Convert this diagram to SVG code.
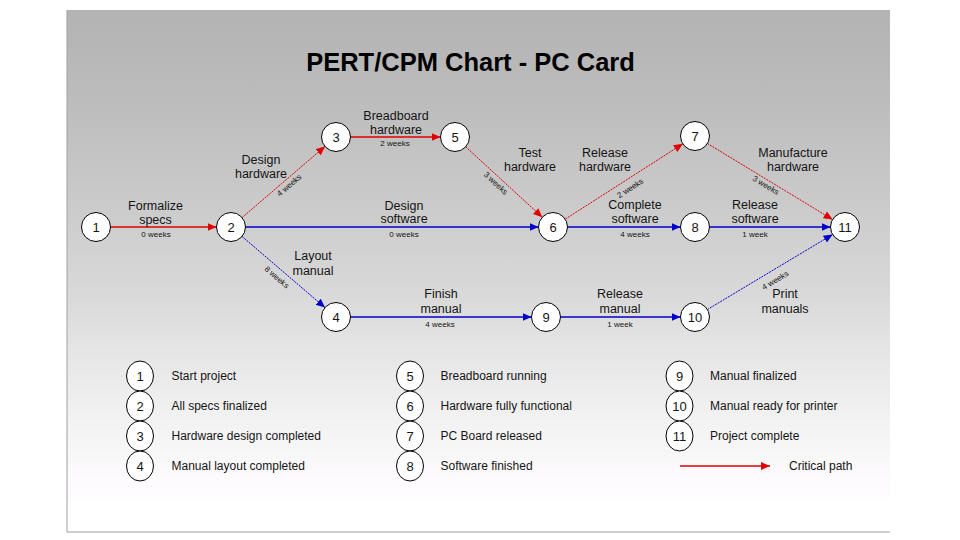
<svg xmlns="http://www.w3.org/2000/svg" width="960" height="540" viewBox="0 0 960 540">
<defs>
<linearGradient id="bg" gradientUnits="userSpaceOnUse" x1="0" y1="10" x2="0" y2="532">
<stop offset="0" stop-color="#b3b3b3"/>
<stop offset="0.17" stop-color="#bcbcbc"/>
<stop offset="0.364" stop-color="#cacaca"/>
<stop offset="0.556" stop-color="#dadada"/>
<stop offset="0.651" stop-color="#e5e5e5"/>
<stop offset="0.785" stop-color="#f2f2f2"/>
<stop offset="0.9" stop-color="#fdfbfd"/>
<stop offset="0.935" stop-color="#fffcff"/>
<stop offset="0.94" stop-color="#ffffff"/>
<stop offset="1" stop-color="#ffffff"/>
</linearGradient>
<marker id="ar" markerUnits="userSpaceOnUse" markerWidth="10" markerHeight="9" refX="9" refY="4" orient="auto"><path d="M0,0 L9,4 L0,8 z" fill="#e00000"/></marker>
<marker id="ab" markerUnits="userSpaceOnUse" markerWidth="10" markerHeight="9" refX="9" refY="4" orient="auto"><path d="M0,0 L9,4 L0,8 z" fill="#0000cc"/></marker>
<style>
.lbl{font-family:"Liberation Sans",Arial,sans-serif;font-size:12.5px;fill:#151515;text-anchor:middle}
.wk{font-family:"Liberation Sans",Arial,sans-serif;font-size:8px;fill:#151515;text-anchor:middle}
.num{font-family:"Liberation Sans",Arial,sans-serif;font-size:13px;fill:#151515;text-anchor:middle}
.leg{font-family:"Liberation Sans",Arial,sans-serif;font-size:12px;fill:#151515}
.node{fill:#ffffff;stroke:#000000;stroke-width:1}
.red{stroke:#e00000;stroke-width:1.5;fill:none;marker-end:url(#ar)}
.blue{stroke:#0000cc;stroke-width:1.3;fill:none;marker-end:url(#ab)}
.dg{stroke-width:1;stroke-dasharray:2 1}
</style>
</defs>
<rect x="67" y="10" width="823" height="522" fill="url(#bg)"/>
<line x1="67" y1="10" x2="67" y2="532" stroke="#a0a0a0" stroke-width="1"/>
<line x1="67" y1="532" x2="890" y2="532" stroke="#a0a0a0" stroke-width="1"/>
<text x="470.5" y="71" font-family="Liberation Sans,Arial,sans-serif" font-weight="bold" font-size="25.5" fill="#000" text-anchor="middle">PERT/CPM Chart - PC Card</text>

<g id="connectors">
<line class="red" x1="110.5" y1="227" x2="216.5" y2="227"/>
<line class="red dg" x1="242" y1="217.6" x2="325" y2="146.4"/>
<line class="red" x1="350.5" y1="137" x2="440.5" y2="137"/>
<line class="red dg" x1="465.7" y1="146.8" x2="542.3" y2="217.2"/>
<line class="red dg" x1="565.2" y1="219.2" x2="682.8" y2="143.8"/>
<line class="red dg" x1="707.4" y1="143.5" x2="832.6" y2="219.5"/>
<line class="blue" x1="245.5" y1="227" x2="538.5" y2="227"/>
<line class="blue" x1="567.5" y1="227" x2="680.5" y2="227"/>
<line class="blue" x1="709.5" y1="227" x2="830.5" y2="227"/>
<line class="blue dg" x1="242" y1="236.4" x2="325" y2="307.6"/>
<line class="blue" x1="350.5" y1="317" x2="531.5" y2="317"/>
<line class="blue" x1="560.5" y1="317" x2="680.5" y2="317"/>
<line class="blue dg" x1="707.4" y1="309.5" x2="832.6" y2="234.5"/>
</g>

<g id="edge-labels">
<text class="lbl" x="155.5" y="210">Formalize</text><text class="lbl" x="155.5" y="223.5">specs</text><text class="wk" x="156" y="237">0 weeks</text>
<text class="lbl" x="261" y="164">Design</text><text class="lbl" x="261" y="178">hardware</text>
<text class="wk" transform="translate(289,185) rotate(-40.6)" y="3">4 weeks</text>
<text class="lbl" x="396" y="120">Breadboard</text><text class="lbl" x="396" y="133.5">hardware</text><text class="wk" x="395" y="146">2 weeks</text>
<text class="wk" transform="translate(496,183) rotate(42.6)" y="3">3 weeks</text>
<text class="lbl" x="530" y="157">Test</text><text class="lbl" x="530" y="171">hardware</text>
<text class="lbl" x="605" y="157">Release</text><text class="lbl" x="605" y="171">hardware</text>
<text class="wk" transform="translate(630,188) rotate(-32.7)" y="3">2 weeks</text>
<text class="lbl" x="793" y="157">Manufacture</text><text class="lbl" x="793" y="171">hardware</text>
<text class="wk" transform="translate(766,185) rotate(31.2)" y="3">3 weeks</text>
<text class="lbl" x="404" y="209.5">Design</text><text class="lbl" x="404" y="223">software</text><text class="wk" x="404" y="237">0 weeks</text>
<text class="lbl" x="635" y="209">Complete</text><text class="lbl" x="635" y="223">software</text><text class="wk" x="635" y="236.5">4 weeks</text>
<text class="lbl" x="755" y="209">Release</text><text class="lbl" x="755" y="223">software</text><text class="wk" x="755" y="236.5">1 week</text>
<text class="lbl" x="313" y="259.5">Layout</text><text class="lbl" x="313" y="275">manual</text>
<text class="wk" transform="translate(277,277) rotate(40.6)" y="3">8 weeks</text>
<text class="lbl" x="441" y="298">Finish</text><text class="lbl" x="441" y="313">manual</text><text class="wk" x="440" y="326.5">4 weeks</text>
<text class="lbl" x="620" y="298">Release</text><text class="lbl" x="620" y="313">manual</text><text class="wk" x="620" y="327">1 week</text>
<text class="lbl" x="785" y="298">Print</text><text class="lbl" x="785" y="313">manuals</text>
<text class="wk" transform="translate(775,280) rotate(-31)" y="3">4 weeks</text>
</g>

<g id="n1"><circle class="node" cx="96" cy="227" r="14.5"/><text class="num" x="96" y="231.5">1</text></g>
<g id="n2"><circle class="node" cx="231" cy="227" r="14.5"/><text class="num" x="231" y="231.5">2</text></g>
<g id="n3"><circle class="node" cx="336" cy="137" r="14.5"/><text class="num" x="336" y="141.5">3</text></g>
<g id="n4"><circle class="node" cx="336" cy="317" r="14.5"/><text class="num" x="336" y="321.5">4</text></g>
<g id="n5"><circle class="node" cx="455" cy="137" r="14.5"/><text class="num" x="455" y="141.5">5</text></g>
<g id="n6"><circle class="node" cx="553" cy="227" r="14.5"/><text class="num" x="553" y="231.5">6</text></g>
<g id="n7"><circle class="node" cx="695" cy="136" r="14.5"/><text class="num" x="695" y="140.5">7</text></g>
<g id="n8"><circle class="node" cx="695" cy="227" r="14.5"/><text class="num" x="695" y="231.5">8</text></g>
<g id="n9"><circle class="node" cx="546" cy="317" r="14.5"/><text class="num" x="546" y="321.5">9</text></g>
<g id="n10"><circle class="node" cx="695" cy="317" r="14.5"/><text class="num" x="695" y="321.5">10</text></g>
<g id="n11"><circle class="node" cx="845" cy="227" r="14.5"/><text class="num" x="845" y="231.5">11</text></g>

<g id="legend">
<ellipse class="node" cx="140" cy="376" rx="13.5" ry="15"/><text class="num" x="140" y="380.5">1</text><text class="leg" x="171.5" y="380">Start project</text>
<ellipse class="node" cx="140" cy="406" rx="13.5" ry="15"/><text class="num" x="140" y="410.5">2</text><text class="leg" x="171.5" y="410">All specs finalized</text>
<ellipse class="node" cx="140" cy="436" rx="13.5" ry="15"/><text class="num" x="140" y="440.5">3</text><text class="leg" x="171.5" y="440">Hardware design completed</text>
<ellipse class="node" cx="140" cy="466" rx="13.5" ry="15"/><text class="num" x="140" y="470.5">4</text><text class="leg" x="171.5" y="469.5">Manual layout completed</text>
<ellipse class="node" cx="410" cy="376" rx="13.5" ry="15"/><text class="num" x="410" y="380.5">5</text><text class="leg" x="440.5" y="380">Breadboard running</text>
<ellipse class="node" cx="410" cy="406" rx="13.5" ry="15"/><text class="num" x="410" y="410.5">6</text><text class="leg" x="440.5" y="410">Hardware fully functional</text>
<ellipse class="node" cx="410" cy="436" rx="13.5" ry="15"/><text class="num" x="410" y="440.5">7</text><text class="leg" x="440.5" y="440">PC Board released</text>
<ellipse class="node" cx="410" cy="466" rx="13.5" ry="15"/><text class="num" x="410" y="470.5">8</text><text class="leg" x="440.5" y="469.5">Software finished</text>
<ellipse class="node" cx="679.5" cy="376" rx="13.5" ry="15"/><text class="num" x="679.5" y="380.5">9</text><text class="leg" x="710" y="380">Manual finalized</text>
<ellipse class="node" cx="679.5" cy="406" rx="13.5" ry="15"/><text class="num" x="679.5" y="410.5">10</text><text class="leg" x="710" y="410">Manual ready for printer</text>
<ellipse class="node" cx="679.5" cy="436" rx="13.5" ry="15"/><text class="num" x="679.5" y="440.5">11</text><text class="leg" x="710" y="440">Project complete</text>
<line class="red" x1="680" y1="466" x2="770" y2="466" stroke-width="1.2"/>
<text class="leg" x="789" y="470">Critical path</text>
</g>
</svg>
